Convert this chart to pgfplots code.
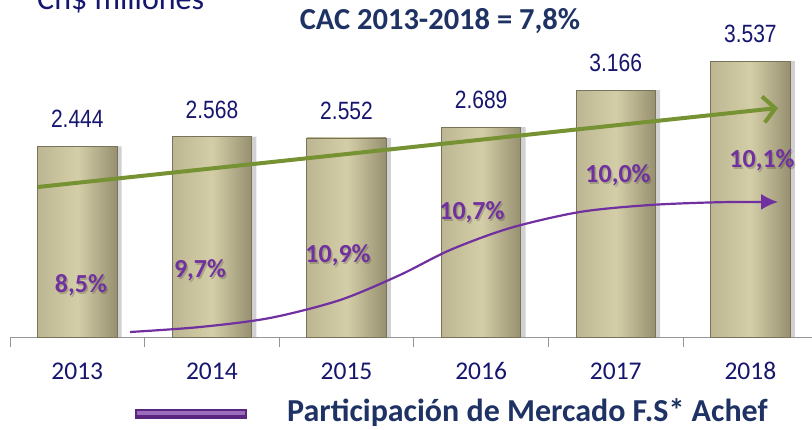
\documentclass[border=0pt]{standalone}
\usepackage{pgfplots}
\pgfplotsset{compat=1.18}
\usepackage{fontspec}
\setmainfont{Carlito}
\newfontfamily\arialf[FakeStretch=0.84]{Liberation Sans}
\usetikzlibrary{arrows.meta}
\definecolor{navy}{RGB}{22,22,110}
\definecolor{titleblue}{RGB}{31,50,100}
\definecolor{barface}{RGB}{212,206,168}
\definecolor{barleft}{RGB}{188,182,146}
\definecolor{barright}{RGB}{150,144,112}
\definecolor{baredge}{RGB}{120,115,90}
\definecolor{olivegr}{RGB}{118,146,50}
\definecolor{purp}{RGB}{112,48,160}
\newcommand{\pctfont}{\bfseries\fontsize{26}{28}\selectfont}
\tikzset{pctshadow/.style={font=\pctfont, text=black, text opacity=0.18, xshift=1.5pt, yshift=-2pt},
         pct/.style={font=\pctfont, text=purp}}
\pgfplotsset{barstyle/.style={ybar, bar width=0.59, bar shift=0pt, left color=barleft, right color=barright, middle color=barface, draw=baredge, line width=0.8pt,
  nodes near coords,
  every node near coord/.append style={font=\arialf\fontsize{25}{28}\selectfont, text=navy, inner sep=0pt, yshift=18pt}}}
\begin{document}
\begin{tikzpicture}[x=1pt,y=1pt]
\useasboundingbox (0,0) rectangle (812,429);
\begin{axis}[
  at={(10pt,92pt)}, anchor=south west,
  scale only axis, width=802pt, height=337pt,
  xmin=-0.5, xmax=5.458, ymin=0, ymax=4320,
  clip=false,
  axis y line=none, axis x line*=bottom,
  axis line style={draw={rgb,255:red,150;green,150;blue,150}, line width=1pt},
  xtick={0,1,2,3,4,5},
  xticklabels={2013,2014,2015,2016,2017,2018},
  major tick length=0pt,
  xticklabel style={font=\fontsize{25.5}{28}\selectfont, text=navy, inner sep=0pt, anchor=base, yshift=-42pt},
  extra x ticks={-0.5,0.5,1.5,2.5,3.5,4.5},
  extra x tick labels={},
  extra x tick style={major tick length=10pt, tick align=outside, tick style={draw={rgb,255:red,150;green,150;blue,150}, line width=1pt}},
  /pgf/number format/assume math mode=true,
  /pgf/number format/1000 sep={.},
]
% shadow
\addplot[ybar, bar width=0.59, bar shift=0.035, fill=black, fill opacity=0.18, draw=none]
  coordinates {(0,2444) (1,2568) (2,2552) (3,2689) (4,3166) (5,3537)};
\addplot[barstyle] coordinates {(0,2444)};
\addplot[barstyle] coordinates {(1,2568)};
\addplot[barstyle] coordinates {(2,2552)};
\addplot[barstyle] coordinates {(3,2689)};
\addplot[barstyle] coordinates {(4,3166)};
\addplot[barstyle] coordinates {(5,3537)};
% green trend arrow
\addplot[olivegr, line width=4pt, -{Straight Barb[length=12pt, width=26pt, line width=4pt]}]
  coordinates {(-0.292,1923) (5.206,2936)};
% purple market share curve
\addplot[purp, line width=2.2pt, smooth, -{Latex[length=17pt, width=16pt]}]
  coordinates {(0.392,64) (0.912,128) (1.432,244) (1.952,474) (2.397,795) (2.769,1115) (3.215,1397) (3.735,1603) (4.255,1692) (4.775,1728) (5.206,1731)};
% percentage labels
\node[pctshadow] at (axis cs:0.027,667) {8,5\%};
\node[pct] at (axis cs:0.027,667) {8,5\%};
\node[pctshadow] at (axis cs:0.912,859) {9,7\%};
\node[pct] at (axis cs:0.912,859) {9,7\%};
\node[pctshadow] at (axis cs:1.937,1051) {10,9\%};
\node[pct] at (axis cs:1.937,1051) {10,9\%};
\node[pctshadow] at (axis cs:2.932,1603) {10,7\%};
\node[pct] at (axis cs:2.932,1603) {10,7\%};
\node[pctshadow] at (axis cs:4.017,2077) {10,0\%};
\node[pct] at (axis cs:4.017,2077) {10,0\%};
\node[pctshadow] at (axis cs:5.087,2269) {10,1\%};
\node[pct] at (axis cs:5.087,2269) {10,1\%};
\end{axis}
% header texts
\node[anchor=base west, inner sep=0pt, text=navy, font=\fontsize{32}{35}\selectfont] at (37,419) {Ch\$ millones};
\node[inner sep=0pt, text=titleblue, font=\bfseries\fontsize{30.5}{34}\selectfont] at (440,408) {CAC 2013-2018 = 7,8\%};
% legend
\draw[line width=10pt, color=purp!80!black] (135,15) -- (247,15);
\draw[line width=4pt, color=purp!70!white] (137,16) -- (245,16);
\node[anchor=base west, inner sep=0pt, text=titleblue, font=\bfseries\fontsize{32}{35}\selectfont] at (287,7.5) {Participación de Mercado F.S* Achef};
\end{tikzpicture}
\end{document}
